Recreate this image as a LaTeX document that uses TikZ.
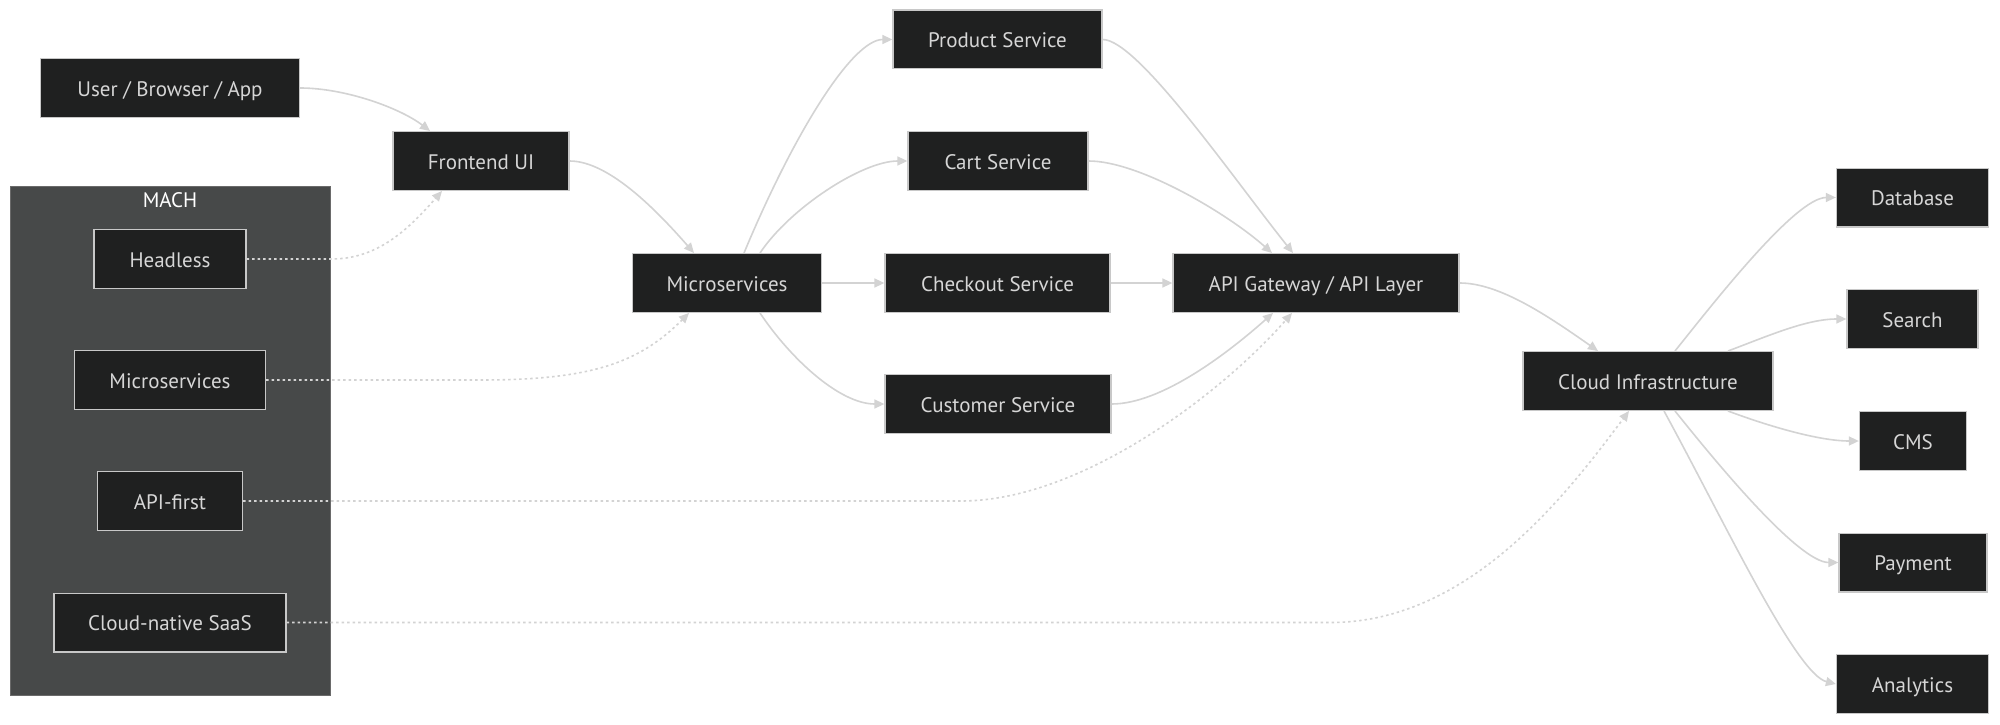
\documentclass[tikz,border=0pt]{standalone}
\usepackage{fontspec}
\setmainfont{PT Sans}
\usetikzlibrary{arrows.meta}
\definecolor{nodebg}{HTML}{1F2020}
\definecolor{nodeln}{HTML}{C8C8C8}
\definecolor{txt}{HTML}{D6D6D6}
\definecolor{wire}{HTML}{D3D3D3}
\definecolor{grpbg}{HTML}{474949}
\definecolor{grpln}{HTML}{6A6A6A}
\tikzset{
  box/.style={draw=nodeln, fill=nodebg, line width=1.3pt, text=txt, minimum height=58.7pt,
    inner sep=0pt, text height=16.5pt, text depth=0pt, font=\fontsize{21}{25}\selectfont},
  flow/.style={draw=wire, line width=1.6pt, -{Triangle[length=10pt,width=9pt]}},
  weak/.style={flow, dash pattern=on 2.5pt off 3pt},
}
\begin{document}
\begin{tikzpicture}[x=1pt,y=-1pt]
\fill[white] (0,0) rectangle (2000,725);
\useasboundingbox (0,0) rectangle (2000,725);

\draw[fill=grpbg, draw=grpln, line width=1pt] (10,186) rectangle (330,695);
\node[text=white, font=\fontsize{21}{25}\selectfont, inner sep=0pt, text height=16.5pt, text depth=0pt] (mach) at (170,199) {MACH};

\node[box, minimum width=259pt] (user) at (170,88) {User / Browser / App};
\node[box, minimum width=176pt] (fe) at (481,161) {Frontend UI};
\node[box, minimum width=152pt] (h) at (170,259) {Headless};
\node[box, minimum width=191pt] (mms) at (170,380) {Microservices};
\node[box, minimum width=145pt] (af) at (170,501) {API-first};
\node[box, minimum width=232pt] (saas) at (170,622.5) {Cloud-native SaaS};

\node[box, minimum width=189pt] (ms) at (727,283) {Microservices};
\node[box, minimum width=209pt] (prod) at (997.5,39.5) {Product Service};
\node[box, minimum width=180pt] (cart) at (998,161) {Cart Service};
\node[box, minimum width=225pt] (chk) at (997.5,283) {Checkout Service};
\node[box, minimum width=226pt] (cust) at (998,404) {Customer Service};
\node[box, minimum width=286pt] (api) at (1316,283) {API Gateway / API Layer};

\node[box, minimum width=250pt] (cloud) at (1648,381) {Cloud Infrastructure};
\node[box, minimum width=152pt] (db) at (1912.5,197.5) {Database};
\node[box, minimum width=131pt] (srch) at (1912.5,319) {Search};
\node[box, minimum width=107pt] (cms) at (1913,441) {CMS};
\node[box, minimum width=148pt] (pay) at (1913,562.5) {Payment};
\node[box, minimum width=152pt] (ana) at (1912.5,684) {Analytics};

\draw[flow] (user.east) .. controls +(45,0) and +(-30,-23) .. ([xshift=-51pt]fe.north);
\draw[weak] (h.east) -- ++(85,0) .. controls +(45,0) and +(-35,40) .. ([xshift=-39pt]fe.south);
\draw[flow] (fe.east) .. controls +(40,0) and +(-35,-40) .. ([xshift=-33pt]ms.north);
\draw[weak] (mms.east) -- ++(215,0) .. controls +(110,0) and +(-50,50) .. ([xshift=-38pt]ms.south);

\draw[flow] ([xshift=17pt]ms.north) .. controls +(50,-120) and +(-40,0) .. (prod.west);
\draw[flow] ([xshift=33pt]ms.north) .. controls +(30,-45) and +(-45,0) .. (cart.west);
\draw[flow] (ms.east) -- (chk.west);
\draw[flow] ([xshift=33pt]ms.south) .. controls +(30,45) and +(-45,0) .. (cust.west);

\draw[flow] (prod.east) .. controls +(35,0) and +(-60,-75) .. ([xshift=-23pt]api.north);
\draw[flow] (cart.east) .. controls +(50,0) and +(-45,-40) .. ([xshift=-44pt]api.north);
\draw[flow] (chk.east) -- (api.west);
\draw[flow] (cust.east) .. controls +(50,0) and +(-45,40) .. ([xshift=-43pt]api.south);
\draw[weak] (af.east) -- ++(718,0) .. controls +(120,0) and +(-70,80) .. ([xshift=-24pt]api.south);

\draw[flow] (api.east) .. controls +(40,0) and +(-50,-35) .. ([xshift=-50pt]cloud.north);
\draw[weak] (saas.east) -- ++(1044,0) .. controls +(140,0) and +(-60,80) .. ([xshift=-19pt]cloud.south);

\draw[flow] ([xshift=27pt]cloud.north) .. controls +(40,-50) and +(-40,0) .. (db.west);
\draw[flow] ([xshift=80pt]cloud.north) .. controls +(40,-15) and +(-40,0) .. (srch.west);
\draw[flow] ([xshift=80pt]cloud.south) .. controls +(40,15) and +(-40,0) .. (cms.west);
\draw[flow] ([xshift=27pt]cloud.south) .. controls +(40,50) and +(-40,0) .. (pay.west);
\draw[flow] ([xshift=16pt]cloud.south) .. controls +(60,110) and +(-40,-10) .. (ana.west);

\end{tikzpicture}
\end{document}
